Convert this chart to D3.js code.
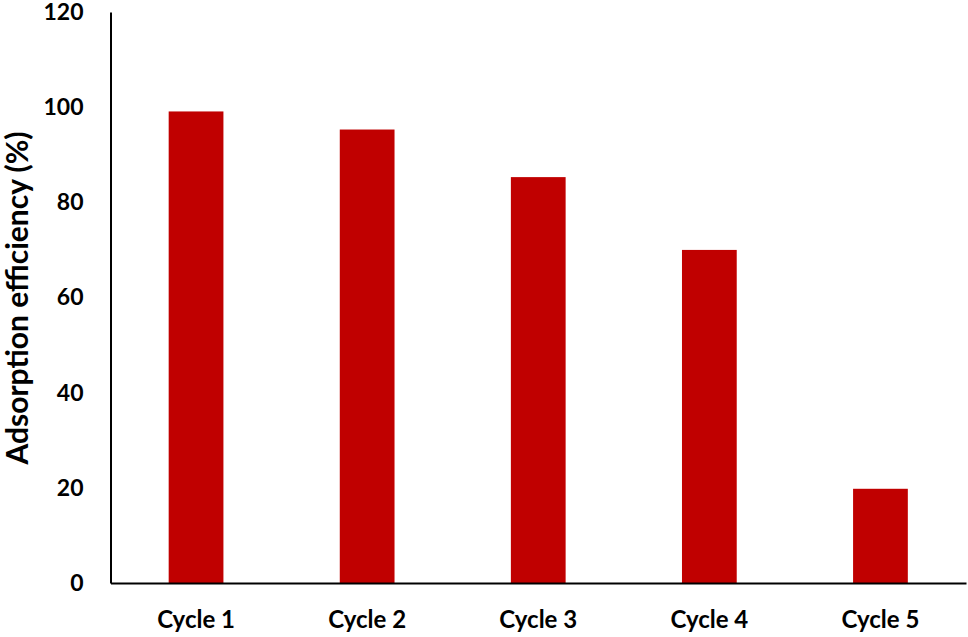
<!DOCTYPE html>
<html><head><meta charset="utf-8">
<script src="https://cdn.jsdelivr.net/npm/d3@7"></script>
<style>
body{margin:0;background:#fff;}
text{font-family:Lato,"Open Sans",sans-serif;font-weight:bold;fill:#000;}
</style></head>
<body><svg id="c" width="968" height="637"></svg>
<script>
const categories = ["Cycle 1","Cycle 2","Cycle 3","Cycle 4","Cycle 5"];
const values = [99.1, 95.3, 85.3, 70.0, 19.8];
const yTicks = [0,20,40,60,80,100,120];
const yTitle = "Adsorption efficiency (%)";

const svg = d3.select("#c");
const x = d3.scaleBand().domain(categories).range([110.5, 966]).paddingInner(0.68).paddingOuter(0.34);
const y = d3.scaleLinear().domain([0,120]).range([583, 12]);

svg.selectAll("rect.bar").data(values).enter().append("rect")
  .attr("class","bar")
  .attr("x",(d,i)=>x(categories[i]))
  .attr("width",x.bandwidth())
  .attr("y",d=>y(d))
  .attr("height",d=>y(0)-y(d))
  .attr("fill","#C00000");

const yAxis = svg.append("g").attr("transform","translate(110.5,0)")
  .call(d3.axisLeft(y).tickValues(yTicks).tickSize(0).tickPadding(27));
yAxis.select(".domain").attr("stroke","#000").attr("stroke-width",2);
yAxis.selectAll("text").style("font-size","23px").style("font-family","Lato").style("font-weight","bold");

const xAxis = svg.append("g").attr("transform","translate(0,583)")
  .call(d3.axisBottom(x).tickSize(0));
xAxis.select(".domain").attr("stroke","#000").attr("stroke-width",2);
xAxis.selectAll("text").attr("y",45).attr("dy",0)
  .style("font-size","24px").style("font-family","Lato").style("font-weight","bold");

svg.append("text")
  .attr("transform","translate(28,298) rotate(-90)")
  .attr("text-anchor","middle")
  .style("font-size","30px")
  .text(yTitle);
</script></body></html>
